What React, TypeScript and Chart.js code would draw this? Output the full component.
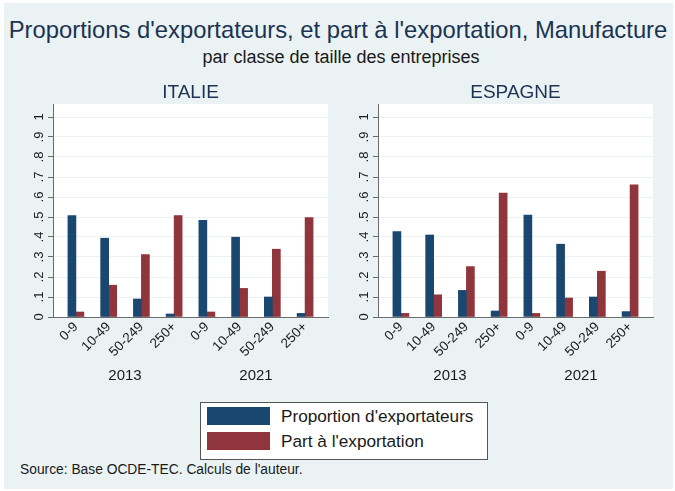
import React, { useEffect, useRef } from "react";
import { Chart, registerables } from "chart.js";

Chart.register(...registerables);

// ---------- data ----------
const sizeClasses = ["0-9", "10-49", "50-249", "250+", "0-9", "10-49", "50-249", "250+"];
const yearGroups = ["2013", "2021"];
const yTickValues = [0, 0.1, 0.2, 0.3, 0.4, 0.5, 0.6, 0.7, 0.8, 0.9, 1];
const yTickLabels = ["0", ".1", ".2", ".3", ".4", ".5", ".6", ".7", ".8", ".9", "1"];
const seriesNames = ["Proportion d'exportateurs", "Part à l'exportation"];

const italieExportateurs = [0.507, 0.394, 0.09, 0.015, 0.483, 0.399, 0.1, 0.018];
const italiePart = [0.025, 0.159, 0.312, 0.507, 0.025, 0.143, 0.339, 0.497];
const espagneExportateurs = [0.427, 0.41, 0.133, 0.03, 0.51, 0.364, 0.1, 0.027];
const espagnePart = [0.018, 0.111, 0.252, 0.62, 0.018, 0.095, 0.229, 0.661];

const panelTitles = ["ITALIE", "ESPAGNE"];
const mainTitle = "Proportions d'exportateurs, et part à l'exportation, Manufacture";
const subTitle = "par classe de taille des entreprises";
const sourceNote = "Source: Base OCDE-TEC. Calculs de l'auteur.";

// ---------- styles ----------
const FONT = "'Liberation Sans', Arial, Helvetica, sans-serif";
const BLUE = "#1a476f";
const RED = "#90353b";
const BG = "#eaf2f3";
const GRID = "#eaf2f3";
const AXIS = "#6b6b6b";
const NAVY = "#1c3354";
const TEXT = "#1a1a1a";

const panelPlugin = (title: string) => ({
  id: "panelDeco",
  beforeDraw(chart: any) {
    const { ctx, chartArea } = chart;
    ctx.save();
    ctx.fillStyle = "#ffffff";
    ctx.fillRect(chartArea.left, chartArea.top, chartArea.right - chartArea.left, chartArea.bottom - chartArea.top);
    ctx.restore();
  },
  afterDraw(chart: any) {
    const { ctx, chartArea, scales } = chart;
    ctx.save();
    // panel title
    ctx.fillStyle = NAVY;
    ctx.font = `19px ${FONT}`;
    ctx.textAlign = "center";
    ctx.textBaseline = "middle";
    ctx.fillText(title, (chartArea.left + chartArea.right) / 2, chartArea.top - 11);
    // rotated y tick labels
    ctx.fillStyle = TEXT;
    ctx.font = `13px ${FONT}`;
    yTickValues.forEach((v, i) => {
      const y = scales.y.getPixelForValue(v);
      ctx.save();
      ctx.translate(chartArea.left - 14, y);
      ctx.rotate(-Math.PI / 2);
      ctx.textAlign = "center";
      ctx.textBaseline = "middle";
      ctx.fillText(yTickLabels[i], 0, 0);
      ctx.restore();
    });
    // group labels
    ctx.font = `15px ${FONT}`;
    ctx.textAlign = "center";
    ctx.textBaseline = "middle";
    const per = sizeClasses.length / yearGroups.length;
    yearGroups.forEach((g, gi) => {
      const x = scales.x.getPixelForValue(gi * per + (per - 1) / 2);
      ctx.fillText(g, x, chartArea.bottom + 59);
    });
    ctx.restore();
  },
});

function makeConfig(title: string, a: number[], b: number[]): any {
  return {
    type: "bar",
    data: {
      datasets: [
        { label: seriesNames[0], data: a.map((v, i) => ({ x: i, y: v })), backgroundColor: BLUE, barThickness: 8, borderWidth: 0 },
        { label: seriesNames[1], data: b.map((v, i) => ({ x: i, y: v })), backgroundColor: RED, barThickness: 8, borderWidth: 0 },
      ],
    },
    options: {
      animation: false,
      responsive: false,
      devicePixelRatio: 1,
      layout: { padding: { left: 0, right: 12, top: 26, bottom: 0 } },
      plugins: { legend: { display: false }, tooltip: { enabled: false }, title: { display: false } },
      scales: {
        x: {
          type: "linear",
          min: -0.7,
          max: 7.7,
          offset: false,
          grid: { display: false },
          border: { display: true, color: AXIS, width: 1 },
          ticks: {
            stepSize: 1,
            includeBounds: false,
            autoSkip: false,
            minRotation: 45,
            maxRotation: 45,
            padding: -6,
            color: TEXT,
            font: { family: FONT, size: 13.5 },
            callback: (v: number) => (Number.isInteger(v) && v >= 0 && v < sizeClasses.length ? sizeClasses[v] : ""),
          },
          afterFit: (s: any) => {
            s.height = 73;
          },
        },
        y: {
          min: 0,
          max: 1.065,
          grid: { color: GRID, tickColor: AXIS, tickLength: 5, drawTicks: true, lineWidth: 1 },
          border: { display: true, color: AXIS, width: 1 },
          ticks: { stepSize: 0.1, includeBounds: false, display: false },
          afterFit: (s: any) => {
            s.width = 53;
          },
        },
      },
    },
    plugins: [panelPlugin(title)],
  };
}

function Panel({ title, a, b, left }: { title: string; a: number[]; b: number[]; left: number }) {
  const ref = useRef<HTMLCanvasElement>(null);
  useEffect(() => {
    if (!ref.current) return;
    const chart = new Chart(ref.current, makeConfig(title, a, b));
    return () => chart.destroy();
  }, [title, a, b]);
  return (
    <canvas
      ref={ref}
      width={340}
      height={312}
      style={{ position: "absolute", left, top: 78, width: 340, height: 312 }}
    />
  );
}

export default function App() {
  useEffect(() => {
    document.body.style.margin = "0";
    document.body.style.background = "#ffffff";
  }, []);
  return (
    <div style={{ position: "relative", width: 675, height: 491, background: "#ffffff", fontFamily: FONT, overflow: "hidden" }}>
      <div style={{ position: "absolute", left: 4, top: 3, width: 669, height: 486, background: BG }} />
      <div
        style={{
          position: "absolute",
          left: 0,
          width: 676,
          top: 16,
          height: 28,
          lineHeight: "28px",
          textAlign: "center",
          fontSize: 23.8,
          color: NAVY,
          whiteSpace: "nowrap",
        }}
      >
        {mainTitle}
      </div>
      <div
        style={{
          position: "absolute",
          left: 0,
          width: 682,
          top: 46,
          height: 22,
          lineHeight: "22px",
          textAlign: "center",
          fontSize: 18,
          color: TEXT,
          whiteSpace: "nowrap",
        }}
      >
        {subTitle}
      </div>
      <Panel title={panelTitles[0]} a={italieExportateurs} b={italiePart} left={0} />
      <Panel title={panelTitles[1]} a={espagneExportateurs} b={espagnePart} left={325} />
      <div
        style={{
          position: "absolute",
          left: 200,
          top: 402,
          width: 286,
          height: 56,
          background: "#ffffff",
          border: "1px solid #555555",
        }}
      >
        {seriesNames.map((n, i) => (
          <div key={n} style={{ position: "absolute", left: 6, top: 4 + i * 25, height: 18, display: "flex", alignItems: "center" }}>
            <div style={{ width: 63, height: 18, background: i === 0 ? BLUE : RED }} />
            <div style={{ marginLeft: 11, fontSize: 17.2, color: TEXT, whiteSpace: "nowrap", lineHeight: "18px" }}>{n}</div>
          </div>
        ))}
      </div>
      <div style={{ position: "absolute", left: 20, top: 462, fontSize: 13.8, lineHeight: "16px", color: TEXT, whiteSpace: "nowrap" }}>
        {sourceNote}
      </div>
    </div>
  );
}
